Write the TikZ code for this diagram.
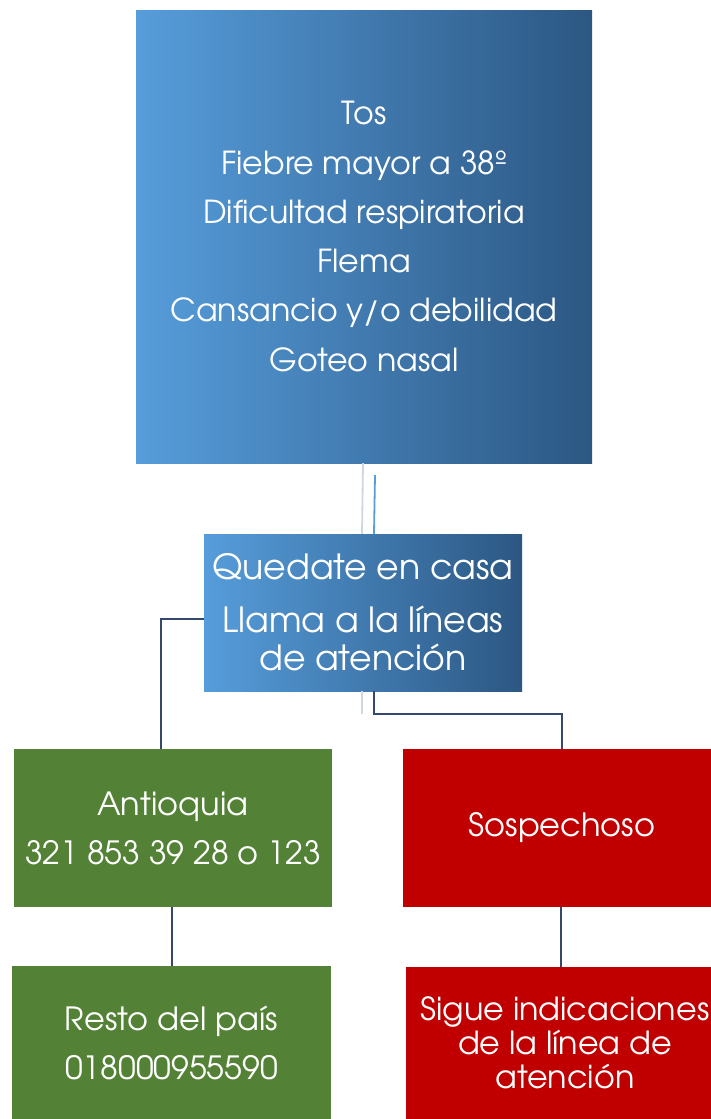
\documentclass[tikz,border=0pt]{standalone}
\usepackage{fontspec}
\setmainfont{texgyreadventor-regular}[Extension=.otf]
\definecolor{gradL}{RGB}{86,157,219}
\definecolor{gradR}{RGB}{44,87,131}
\definecolor{boxgreen}{RGB}{83,129,53}
\definecolor{boxred}{RGB}{192,0,0}
\definecolor{linkc}{RGB}{52,72,110}
\definecolor{faint}{RGB}{205,214,226}
\tikzset{
  bluebox/.style={rectangle, inner sep=0pt, left color=gradL, right color=gradR, draw=none, text=white, align=center},
  greenbox/.style={rectangle, inner sep=0pt, fill=boxgreen, draw=none, text=white, align=center},
  redbox/.style={rectangle, inner sep=0pt, fill=boxred, draw=none, text=white, align=center},
  conn/.style={draw=linkc, line width=1.8pt},
  faintline/.style={draw=faint, line width=1.8pt},
}
\begin{document}
\begin{tikzpicture}[x=1pt,y=-1pt]
\useasboundingbox (0,0) rectangle (711,1119);
\begin{scope}
\clip (0,0) rectangle (711,1119);
\node[bluebox, minimum width=456, minimum height=453, font=\fontsize{31.7}{49.3}\selectfont] (t) at (364,236.5)
  {Tos\\Fiebre mayor a 38º\\Dificultad respiratoria\\Flema\\Cansancio y/o debilidad\\Goteo nasal};
\node[bluebox, minimum width=318, minimum height=157, font=\fontsize{34.7}{38}\selectfont] (m) at (363,612.5)
  {Quedate en casa\\[15pt]Llama a la líneas\\de atención};
\node[greenbox, minimum width=318, minimum height=158, font=\fontsize{32}{49}\selectfont] (a) at (173,828)
  {Antioquia\\321 853 39 28 o 123};
\node[redbox, minimum width=318, minimum height=158, font=\fontsize{32}{49}\selectfont] (s) at (562,828)
  {Sospechoso};
\node[greenbox, minimum width=319, minimum height=153, font=\fontsize{32}{49}\selectfont] (r) at (171.5,1042.5)
  {Resto del país\\018000955590};
\node[redbox, minimum width=318, minimum height=152, font=\fontsize{31.8}{34}\selectfont] (g) at (565,1043)
  {Sigue indicaciones\\de la línea de\\atención};
\end{scope}
% connectors
\draw[faintline] ([xshift=-1]t.south) -- ([xshift=-1]m.north);
\draw[conn, draw=gradL] ([xshift=11,yshift=-12]t.south) -- ([xshift=11]m.north);
\draw[conn] ([yshift=-6.5]m.west) -| ([xshift=-12]a.north);
\draw[faintline] ([xshift=-1]m.south) -- ++(0,23);
\draw[conn] ([xshift=11]m.south) -- ++(0,23) -| (s.north);
\draw[conn] ([xshift=-1]a.south) -- ([xshift=-1]a.south |- r.north);
\draw[conn] ([xshift=-1]s.south) -- ([xshift=-1]s.south |- g.north);
\end{tikzpicture}
\end{document}
